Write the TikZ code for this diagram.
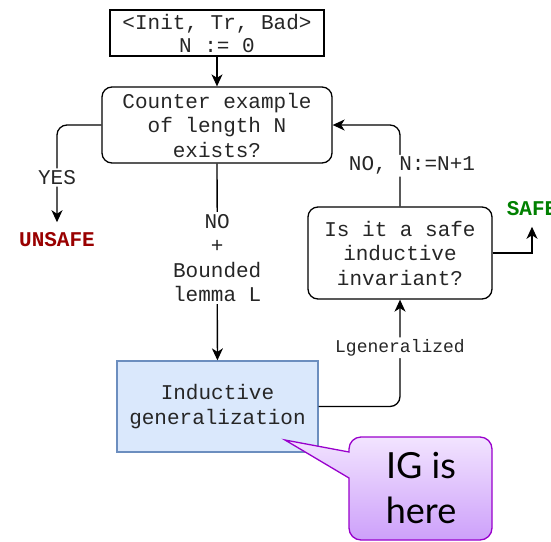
\documentclass[tikz,border=0pt]{standalone}
\usepackage{fontspec}
\setmonofont{Liberation Mono}
\newfontfamily\notefont{Lato}
\usetikzlibrary{arrows.meta}

\definecolor{igfill}{RGB}{218,232,252}
\definecolor{igline}{RGB}{108,142,191}
\definecolor{unsafered}{RGB}{153,0,0}
\definecolor{safegreen}{RGB}{0,128,0}
\definecolor{notetop}{RGB}{242,228,255}
\definecolor{notebot}{RGB}{205,160,250}
\definecolor{noteline}{RGB}{153,0,204}

\begin{document}
\begin{tikzpicture}[x=1pt,y=-1pt,line width=1.3pt,
    >={Stealth[length=12pt,width=11pt,inset=3.5pt]},
    every node/.style={font=\ttfamily\fontsize{21}{24.5}\selectfont,text=black!85},
    box/.style={draw,line width=1.3pt,align=center,inner sep=0pt},
    lbl/.style={fill=white,align=center,inner sep=2pt},
    verdict/.style={font=\ttfamily\bfseries\fontsize{21}{24.5}\selectfont,inner xsep=2pt,inner ysep=10pt},
    callout/.style={draw=noteline,line width=1.3pt,top color=notetop,bottom color=notebot}]

\useasboundingbox (0,0) rectangle (551,541);

% draw the boxes
\node[box,minimum width=214pt,minimum height=46pt,font=\ttfamily\fontsize{21}{23}\selectfont]
    (init) at (217,33) {<Init, Tr, Bad>\\N := 0};
\node[box,rounded corners=10pt,minimum width=230pt,minimum height=76pt]
    (cex) at (217,125) {Counter example\\of length N\\exists?};
\node[box,rounded corners=10pt,minimum width=184pt,minimum height=92pt]
    (inv) at (400,253) {Is it a safe\\inductive\\invariant?};
\node[box,fill=igfill,draw=igline,minimum width=201pt,minimum height=91pt]
    (ig) at (217.5,406.5) {Inductive\\generalization};

% results
\node[verdict,text=unsafered] (unsafe) at (57,240) {UNSAFE};
\node[verdict,text=safegreen] (safe) at (532,209) {SAFE};

% draw the connectors
\draw[->] (init) -- (cex);
\draw[->,rounded corners=10pt] (cex.west) -| node[lbl,pos=0.77]{YES} (unsafe.north);
\draw[->] (cex) -- node[lbl,pos=0.48]{NO\\+\\Bounded\\lemma L} (ig);
\draw[->,rounded corners=10pt] (inv.north) |- node[lbl,pos=0.25,xshift=12pt]{NO, N:=N+1} (cex.east);
\draw[->,rounded corners=10pt] (ig.east) -| node[lbl,pos=0.775,font=\ttfamily\fontsize{18}{20}\selectfont]{Lgeneralized} (inv.south);
\draw[->] (inv.east) -| (safe.south);

% the speech bubble
\draw[callout] (349,478) -- (285,440) -- (349,452) [rounded corners=12pt] -- (349,437)
    -- (492,437) -- (492,540) -- (349,540) [sharp corners] -- cycle;
\node[align=center,font=\notefont\fontsize{36}{45}\selectfont,text=black] (note) at (421,488) {IG is\\here};

\end{tikzpicture}
\end{document}
